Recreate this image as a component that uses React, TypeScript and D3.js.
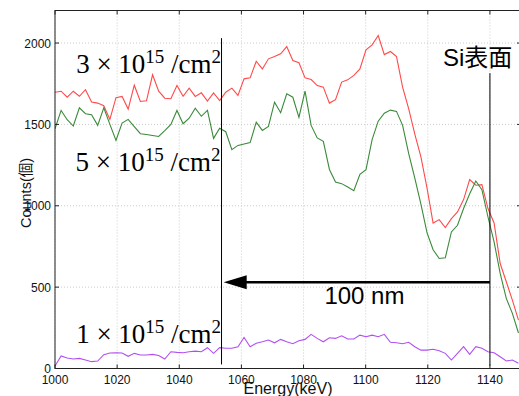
import * as d3 from "d3";

const width = 519;
const height = 396;

// channel calibration of the spectrum (keV)
const energyStart = 1000;
const channelWidth = 1.963;

const counts3e15 = [
  1698, 1704, 1667, 1704, 1673, 1713, 1637, 1631, 1615, 1531,
  1664, 1672, 1594, 1741, 1641, 1645, 1805, 1704, 1661, 1658,
  1739, 1673, 1723, 1672, 1694, 1643, 1694, 1647, 1698, 1723,
  1678, 1780, 1786, 1888, 1841, 1903, 1917, 1934, 1978, 1893,
  1879, 1786, 1776, 1739, 1729, 1631, 1652, 1760, 1774, 1801,
  1841, 1958, 1989, 2046, 1929, 1948, 1917, 1729, 1596, 1440,
  1300, 1110, 894, 915, 866, 921, 962, 1038, 1161, 1126,
  1130, 983, 894, 645, 533, 420, 297,
];

const counts5e15 = [
  1473, 1586, 1529, 1490, 1602, 1566, 1560, 1494, 1602, 1500,
  1402, 1508, 1531, 1487, 1443, 1438, 1432, 1426, 1462, 1500,
  1586, 1504, 1538, 1600, 1550, 1586, 1414, 1477, 1455, 1345,
  1371, 1380, 1388, 1514, 1463, 1488, 1637, 1572, 1688, 1667,
  1543, 1704, 1494, 1417, 1396, 1223, 1146, 1136, 1115, 1093,
  1193, 1222, 1407, 1520, 1569, 1588, 1580, 1494, 1320, 1170,
  1010, 835, 730, 676, 680, 839, 880, 983, 1074, 1152,
  1099, 931, 778, 584, 431, 339, 218,
];

const counts1e15 = [
  15, 77, 65, 58, 62, 52, 42, 46, 85, 95,
  96, 95, 75, 93, 83, 83, 87, 80, 58, 103,
  99, 97, 103, 107, 103, 128, 93, 128, 124, 124,
  134, 191, 134, 155, 164, 175, 158, 179, 164, 152,
  171, 179, 210, 185, 164, 189, 185, 201, 181, 181,
  205, 195, 205, 195, 210, 161, 158, 152, 161, 134,
  113, 113, 118, 109, 93, 52, 93, 134, 87, 134,
  124, 103, 97, 72, 46, 52, 32,
];

const xTicks = [1000, 1020, 1040, 1060, 1080, 1100, 1120, 1140];
const yTicks = [0, 500, 1000, 1500, 2000];

const series = [
  { name: "3e15", values: counts3e15, color: "#ff4a4a" },
  { name: "5e15", values: counts5e15, color: "#3a8a3a" },
  { name: "1e15", values: counts1e15, color: "#b050f0" },
];

// annotation positions in data units
const doseLabels = [
  { mant: "3", energy: 1006.8, count: 1815 },
  { mant: "5", energy: 1006.6, count: 1213 },
  { mant: "1", energy: 1006.8, count: 158 },
];
const markerLines = [
  { energy: 1053.6, top: 2030, bottom: 25 },
  { energy: 1140, top: 1815, bottom: 18 },
];
const arrow = { from: 1140, to: 1054.3, count: 530, label: "100 nm" };

const sans = "'Liberation Sans', Arial, 'Noto Sans CJK JP', sans-serif";
const serif = "'Liberation Serif', 'Times New Roman', serif";

export default function App() {
  const x = d3.scaleLinear().domain([1000, 1150]).range([55, 521]);
  const y = d3.scaleLinear().domain([0, 2200]).range([368.5, 10.5]);
  const [x0, x1] = x.range();
  const [yb, yt] = y.range();

  const line = d3
    .line<number>()
    .x((_, i) => x(energyStart + i * channelWidth))
    .y((d) => y(d));

  const tipX = x(arrow.to);
  const ay = y(arrow.count);

  return (
    <svg
      width={width}
      height={height}
      style={{ position: "absolute", left: 0, top: 0, background: "#fff" }}
    >
      <defs>
        <clipPath id="plot">
          <rect x={x0} y={yt} width={x1 - x0} height={yb - yt} />
        </clipPath>
      </defs>

      {/* grid */}
      <g stroke="#cccccc" strokeWidth={1} strokeDasharray="1,2">
        {xTicks.map((t) => (
          <line key={`gx${t}`} x1={x(t)} x2={x(t)} y1={yt} y2={yb} />
        ))}
        {yTicks.map((t) => (
          <line key={`gy${t}`} x1={x0} x2={x1} y1={y(t)} y2={y(t)} />
        ))}
      </g>

      {/* data */}
      <g clipPath="url(#plot)" fill="none" strokeWidth={1.1}>
        {series.map((s) => (
          <path key={s.name} d={line(s.values) ?? ""} stroke={s.color} />
        ))}
      </g>

      {/* frame + inward ticks */}
      <rect x={x0} y={yt} width={x1 - x0} height={yb - yt} fill="none" stroke="#222" strokeWidth={1} />
      <g stroke="#222" strokeWidth={1}>
        {xTicks.map((t) => (
          <g key={`tx${t}`}>
            <line x1={x(t)} x2={x(t)} y1={yb} y2={yb - 4} />
            <line x1={x(t)} x2={x(t)} y1={yt} y2={yt + 4} />
          </g>
        ))}
        {yTicks.map((t) => (
          <g key={`ty${t}`}>
            <line x1={x0} x2={x0 + 4} y1={y(t)} y2={y(t)} />
            <line x1={x1} x2={x1 - 4} y1={y(t)} y2={y(t)} />
          </g>
        ))}
      </g>

      {/* tick labels */}
      <g fontFamily={sans} fontSize={12} fill="#111">
        {xTicks.map((t) => (
          <text key={`lx${t}`} x={x(t)} y={383.5} textAnchor="middle">
            {t}
          </text>
        ))}
        {yTicks.map((t) => (
          <text key={`ly${t}`} x={x0 - 4} y={y(t) + 4.5} textAnchor="end">
            {t}
          </text>
        ))}
      </g>

      {/* axis titles */}
      <text
        fontFamily={sans}
        fontSize={14.5}
        fill="#111"
        textAnchor="middle"
        transform={`translate(31,193) rotate(-90)`}
      >
        Counts(個)
      </text>
      <text fontFamily={sans} fontSize={16} fill="#111" textAnchor="middle" x={288} y={394}>
        Energy(keV)
      </text>

      {/* marker lines */}
      <g stroke="#000" strokeWidth={1}>
        {markerLines.map((m) => (
          <line key={m.energy} x1={x(m.energy)} x2={x(m.energy)} y1={y(m.top)} y2={y(m.bottom)} />
        ))}
      </g>

      {/* depth arrow */}
      <line x1={x(arrow.from)} x2={tipX + 18} y1={ay} y2={ay} stroke="#000" strokeWidth={2.5} />
      <path d={`M${tipX},${ay} L${tipX + 23},${ay - 7} L${tipX + 23},${ay + 7} Z`} fill="#000" />
      <text
        fontFamily={sans}
        fontSize={24}
        fill="#000"
        textAnchor="middle"
        x={x(1099.6)}
        y={y(395)}
      >
        {arrow.label}
      </text>

      <text fontFamily={sans} fontSize={24} fill="#000" x={x(1124.9)} y={y(1856)}>
        Si表面
      </text>

      {/* dose labels */}
      {doseLabels.map((d) => (
        <text key={d.mant} fontFamily={serif} fontSize={27} fill="#000" x={x(d.energy)} y={y(d.count)}>
          {`${d.mant} × 10`}
          <tspan fontSize={19} dy={-10}>
            15
          </tspan>
          <tspan dy={10}>{" /cm"}</tspan>
          <tspan fontSize={19} dy={-10}>
            2
          </tspan>
        </text>
      ))}
    </svg>
  );
}
